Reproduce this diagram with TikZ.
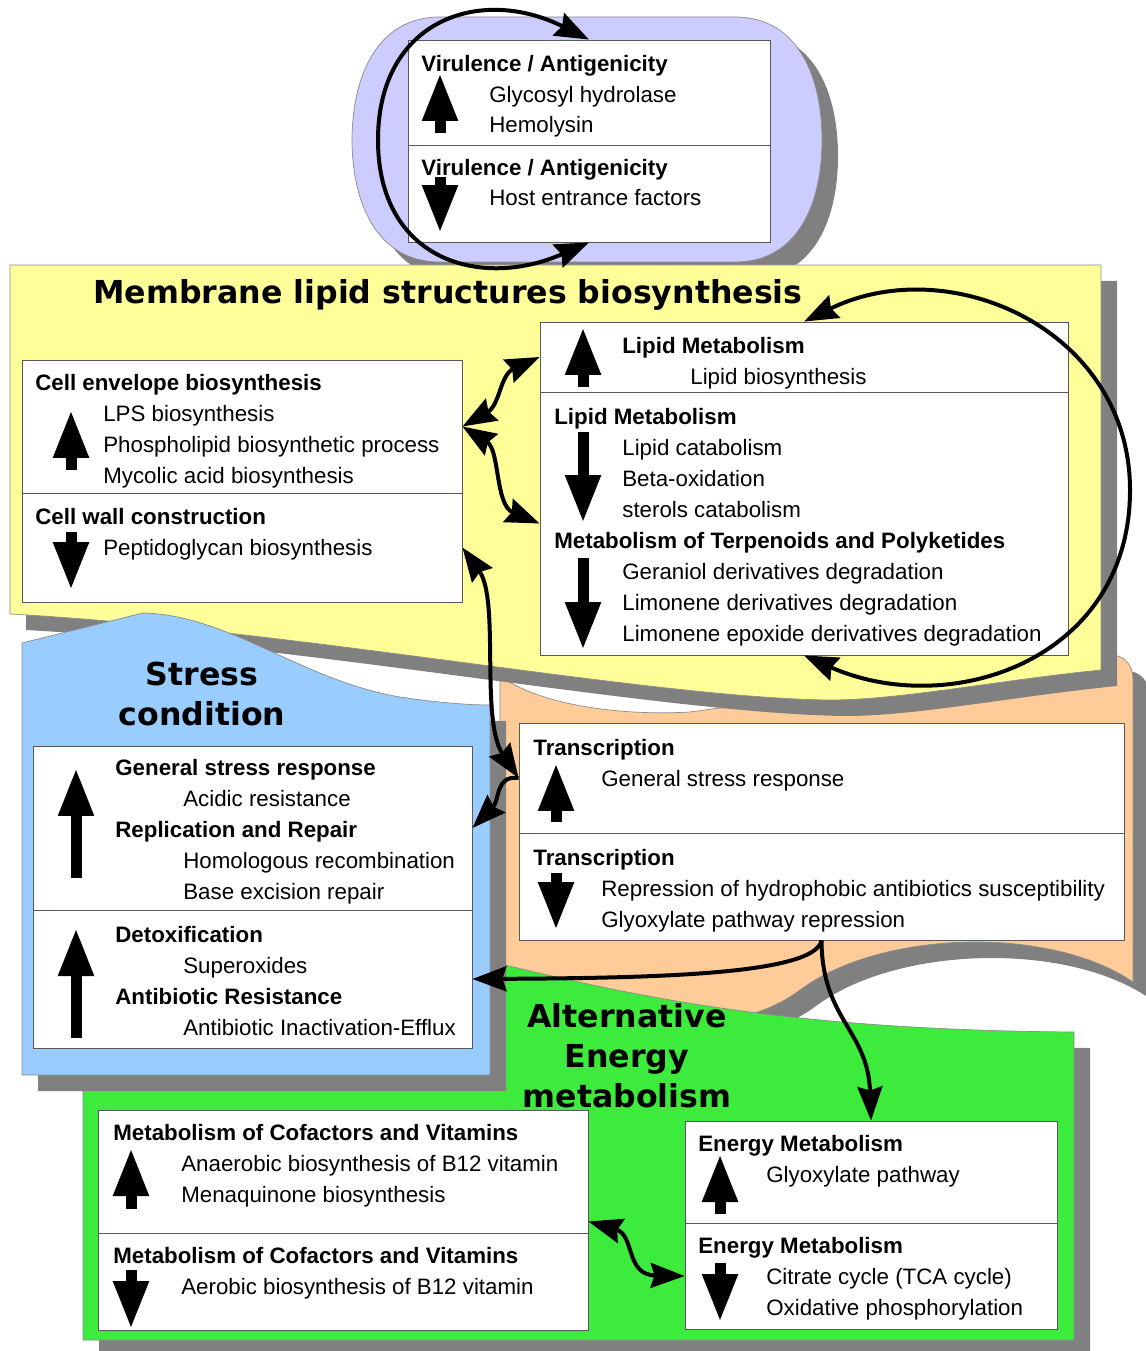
\documentclass[tikz,border=0pt]{standalone}
\usepackage{fontspec}
\setmainfont{Liberation Sans}
\newfontfamily\titlefont{DejaVu Sans}
\usetikzlibrary{arrows.meta, fit}
\definecolor{virpurple}{RGB}{204,204,255}
\definecolor{memyellow}{RGB}{255,255,153}
\definecolor{stressblue}{RGB}{153,204,255}
\definecolor{transorange}{RGB}{255,204,153}
\definecolor{energygreen}{RGB}{61,235,61}
\definecolor{shadowgray}{RGB}{128,128,128}
\newcommand{\ind}{\hspace*{1.36cm}}

\begin{document}
\begin{tikzpicture}[x=0.02cm, y=-0.02cm, font=\fontsize{12.7}{17.64}\selectfont,
  >={Stealth[length=0.68cm, width=0.5cm, inset=0.08cm]}]
		% Styles for regions, boxes and arrows
		\tikzset{region/.style={draw=black!45, line width=0.4pt, preaction={fill=shadowgray, transform canvas={shift={(16,16)}}}}}
		\tikzset{cell/.style={draw=black!65, fill=white, line width=0.5pt, inner sep=0pt}}
		% txt nodes sit on the baseline of their last line
		\tikzset{txt/.style={anchor=base west, align=left, inner sep=0pt}}
		\tikzset{title/.style={anchor=base, align=center, inner sep=0pt, font=\titlefont\bfseries\fontsize{18}{22.68}\selectfont}}
		\tikzset{blk/.style={line width=0.22cm, -{Triangle[length=0.96cm, width=0.66cm]}}}
		\tikzset{conn/.style={line width=0.08cm}}
		
		\useasboundingbox (0,0) rectangle (1145,1351);
		
		% Background regions
		\path[region, fill=virpurple] (440,17) -- (735,17) .. controls (800,17) and (822,80) .. (822,140) .. controls (822,200) and (800,262) .. (735,262) -- (440,262) .. controls (375,262) and (352,200) .. (352,140) .. controls (352,80) and (375,17) .. (440,17) -- cycle;
		\path[region, fill=transorange] (500,676) .. controls (540,705) and (620,716) .. (690,712) -- (1110,655) .. controls (1125,655) and (1133,665) .. (1133,680) -- (1133,982) .. controls (1050,925) and (880,930) .. (800,990) .. controls (760,1020) and (700,1030) .. (600,1030) -- (500,1030) -- cycle;
		\path[region, fill=energygreen] (83,965) -- (505,965) .. controls (650,1000) and (800,1030) .. (1074,1032) -- (1074,1340) -- (83,1340) -- cycle;
		\path[region, fill=memyellow] (10,265) -- (1101,265) -- (1101,670) .. controls (1000,680) and (900,700) .. (830,700) .. controls (650,698) and (300,630) .. (10,614) -- cycle;
		\path[region, fill=stressblue] (22,643) -- (143,613) .. controls (230,615) and (300,680) .. (400,697) .. controls (440,703) and (470,705) .. (490,705) -- (490,1075) -- (22,1075) -- cycle;
		
		% Titles
		\node[title] (memtitle) at (448,303) {Membrane lipid structures biosynthesis};
		\node[title] (stresstitle) at (202,725) {Stress\\condition};
		\node[title] (alttitle) at (627,1107) {Alternative\\Energy\\metabolism};
		
		% Virulence / Antigenicity
		\node[cell, fit={(408,40) (770,145)}] (virup) {};
		\node[cell, fit={(408,145) (770,242)}] (virdown) {};
		\node[txt] (virtxta) at (421,133) {\textbf{Virulence / Antigenicity}\\\ind Glycosyl hydrolase\\\ind Hemolysin};
		\node[txt] (virtxtb) at (421,206) {\textbf{Virulence / Antigenicity}\\\ind Host entrance factors};
		\draw[blk] (440,133) -- (440,73);
		\draw[blk] (440,177) -- (440,233);
		
		% Cell envelope / cell wall
		\node[cell, fit={(22,360) (462,493)}] (envup) {};
		\node[cell, fit={(22,493) (462,602)}] (envdown) {};
		\node[txt] (envtxta) at (35,483) {\textbf{Cell envelope biosynthesis}\\\ind LPS biosynthesis\\\ind Phospholipid biosynthetic process\\\ind Mycolic acid biosynthesis};
		\node[txt] (envtxtb) at (35,555) {\textbf{Cell wall construction}\\\ind Peptidoglycan biosynthesis};
		\draw[blk] (71,470) -- (71,410);
		\draw[blk] (71,532) -- (71,590);
		
		% Lipid metabolism
		\node[cell, fit={(540,322) (1068,392)}] (lipup) {};
		\node[cell, fit={(540,392) (1068,655)}] (lipdown) {};
		\node[txt] (liptxta) at (622,384) {\textbf{Lipid Metabolism}\\\ind Lipid biosynthesis};
		\node[txt] (liptxtb) at (554,641) {\textbf{Lipid Metabolism}\\\ind Lipid catabolism\\\ind Beta-oxidation\\\ind sterols catabolism\\\textbf{Metabolism of Terpenoids and Polyketides}\\\ind Geraniol derivatives degradation\\\ind Limonene derivatives degradation\\\ind Limonene epoxide derivatives degradation};
		\draw[blk] (583,387) -- (583,327);
		\draw[blk] (583,432) -- (583,523);
		\draw[blk] (583,558) -- (583,650);
		
		% Stress condition
		\node[cell, fit={(33,746) (472,910)}] (stressup) {};
		\node[cell, fit={(33,910) (472,1048)}] (stressdown) {};
		\node[txt] (stresstxta) at (115,899) {\textbf{General stress response}\\\ind Acidic resistance\\\textbf{Replication and Repair}\\\ind Homologous recombination\\\ind Base excision repair};
		\node[txt] (stresstxtb) at (115,1035) {\textbf{Detoxification}\\\ind Superoxides\\\textbf{Antibiotic Resistance}\\\ind Antibiotic Inactivation-Efflux};
		\draw[blk] (76,878) -- (76,768);
		\draw[blk] (76,1038) -- (76,928);
		
		% Transcription
		\node[cell, fit={(519,723) (1124,833)}] (trup) {};
		\node[cell, fit={(519,833) (1124,940)}] (trdown) {};
		\node[txt] (trtxta) at (533,786) {\textbf{Transcription}\\\ind General stress response};
		\node[txt] (trtxtb) at (533,927) {\textbf{Transcription}\\\ind Repression of hydrophobic antibiotics susceptibility\\\ind Glyoxylate pathway repression};
		\draw[blk] (556,822) -- (556,763);
		\draw[blk] (556,873) -- (556,930);
		
		% Cofactors and vitamins
		\node[cell, fit={(98,1110) (588,1233)}] (cofup) {};
		\node[cell, fit={(98,1233) (588,1330)}] (cofdown) {};
		\node[txt] (coftxta) at (113,1202) {\textbf{Metabolism of Cofactors and Vitamins}\\\ind Anaerobic biosynthesis of B12 vitamin\\\ind Menaquinone biosynthesis};
		\node[txt] (coftxtb) at (113,1294) {\textbf{Metabolism of Cofactors and Vitamins}\\\ind Aerobic biosynthesis of B12 vitamin};
		\draw[blk] (131,1209) -- (131,1148);
		\draw[blk] (131,1270) -- (131,1329);
		
		% Energy metabolism
		\node[cell, fit={(685,1121) (1057,1223)}] (enup) {};
		\node[cell, fit={(685,1223) (1057,1329)}] (endown) {};
		\node[txt] (entxta) at (698,1182) {\textbf{Energy Metabolism}\\\ind Glyoxylate pathway};
		\node[txt] (entxtb) at (698,1315) {\textbf{Energy Metabolism}\\\ind Citrate cycle (TCA cycle)\\\ind Oxidative phosphorylation};
		\draw[blk] (720,1214) -- (720,1154);
		\draw[blk] (720,1263) -- (720,1322);
		
		% Connectors
		\draw[conn, <->] (virdown.south) .. controls (480,290) and (378,260) .. (378,140) .. controls (378,20) and (480,-15) .. (virup.north);
		\draw[conn, <->] (lipup.north) .. controls (950,250) and (1130,330) .. (1130,490) .. controls (1130,660) and (950,720) .. (lipdown.south);
		\draw[conn, <->] (envup.east) .. controls (500,405) and (500,375) .. (lipup.west);
		\draw[conn, <->] (envup.east) .. controls (500,450) and (495,505) .. (lipdown.west);
		\draw[conn, <->] (envdown.east) .. controls (500,600) and (480,720) .. (trup.west);
		\draw[conn, ->] (trup.west) .. controls (495,775) and (500,800) .. (stressup.east);
		\draw[conn, ->] (trdown.south) .. controls (815,975) and (650,978) .. (stressdown.east);
		\draw[conn, ->] (trdown.south) .. controls (822,1020) and (868,1030) .. (enup.north);
		\draw[conn, <->] ([yshift=0.24cm]cofup.south east) .. controls (635,1235) and (625,1275) .. (endown.west);
	\end{tikzpicture}
\end{document}
